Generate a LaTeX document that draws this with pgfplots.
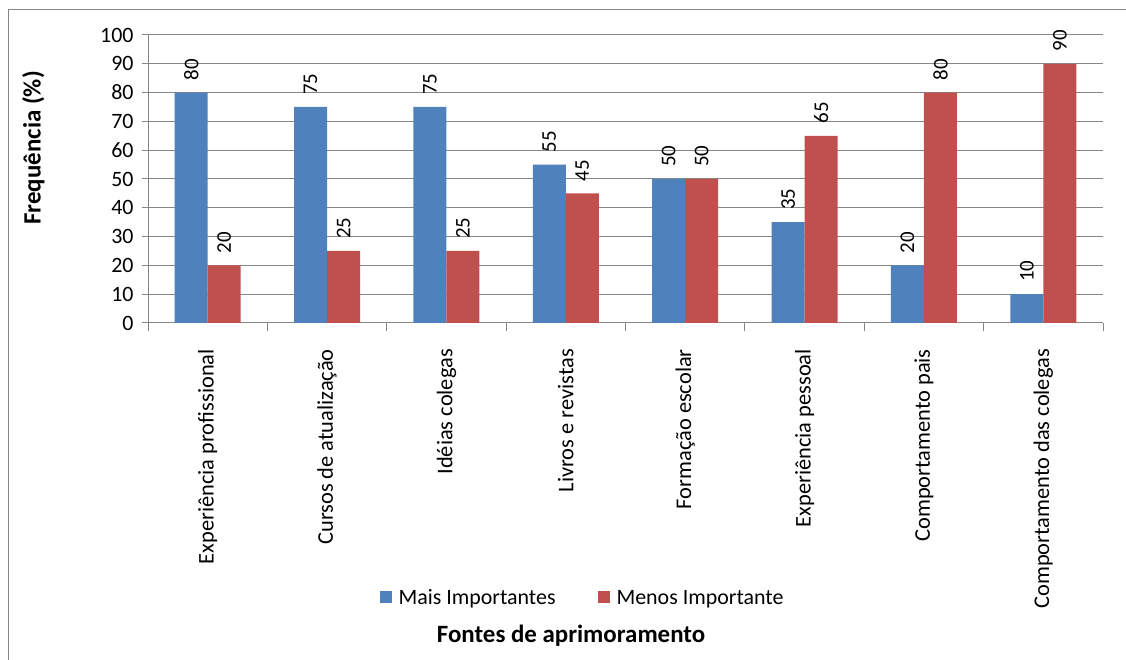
\documentclass[border=0pt]{standalone}
\usepackage{fontspec}
\setmainfont{Carlito}
\usepackage{pgfplots}
\pgfplotsset{compat=1.18}
\definecolor{barblue}{HTML}{4F81BD}
\definecolor{barred}{HTML}{C0504D}
\definecolor{gridgray}{HTML}{878787}
\begin{document}
\begin{tikzpicture}[x=1bp,y=1bp]
\useasboundingbox (0,0) rectangle (1126,660);
\draw[gridgray, line width=1bp] (8,0) -- (8,650) -- (1126,650);
\begin{axis}[
  at={(148bp,337bp)}, anchor=south west,
  width=955bp, height=288bp, scale only axis,
  ybar=0pt, bar width=33bp,
  xmin=-0.5, xmax=7.5, ymin=0, ymax=100,
  axis x line=bottom, axis y line=left,
  axis line style={-, gridgray, line width=1bp},
  xtick={0,...,7},
  xticklabels={Experiência profissional, Cursos de atualização, Idéias colegas, Livros e revistas, Formação escolar, Experiência pessoal, Comportamento pais, Comportamento das colegas},
  xticklabel style={rotate=90, anchor=east, font=\fontsize{22.5}{25}\selectfont, inner sep=0pt},
  xticklabel shift=20bp,
  major x tick style={draw=none},
  minor xtick={-0.5,0.5,...,7.5},
  minor x tick style={gridgray, line width=1bp},
  minor tick length=8bp,
  tick align=outside,
  ytick={0,10,...,100},
  major tick length=6bp,
  ytick style={gridgray, line width=1bp},
  yticklabel style={font=\fontsize{22}{25}\selectfont, xshift=-5bp},
  /pgf/number format/assume math mode=true,
  ymajorgrids, grid style={gridgray, line width=1bp},
  nodes near coords,
  nodes near coords style={rotate=90, anchor=west, font=\fontsize{21}{23}\selectfont, inner sep=12bp, black},
  xlabel={\textbf{Fontes de aprimoramento}},
  xlabel style={at={(axis description cs:0.443,-1.087)}, anchor=center, font=\fontsize{25}{28}\selectfont},
  ylabel={\textbf{Frequência (\%)}},
  ylabel style={at={(axis description cs:-0.120,0.608)}, anchor=center, rotate=0, font=\fontsize{25}{28}\selectfont},
  legend style={at={(axis description cs:0.455,-0.955)}, anchor=center, draw=none, legend columns=2, font=\fontsize{22}{25}\selectfont, /tikz/every even column/.append style={column sep=40bp}},
  legend image code/.code={\fill[#1] (0bp,-5bp) rectangle (12bp,7bp); \path (17bp,0bp);},
]
\addplot[fill=barblue, draw=none] coordinates {(0,80) (1,75) (2,75) (3,55) (4,50) (5,35) (6,20) (7,10)};
\addplot[fill=barred, draw=none] coordinates {(0,20) (1,25) (2,25) (3,45) (4,50) (5,65) (6,80) (7,90)};
\legend{Mais Importantes, Menos Importante}
\end{axis}
\end{tikzpicture}
\end{document}
